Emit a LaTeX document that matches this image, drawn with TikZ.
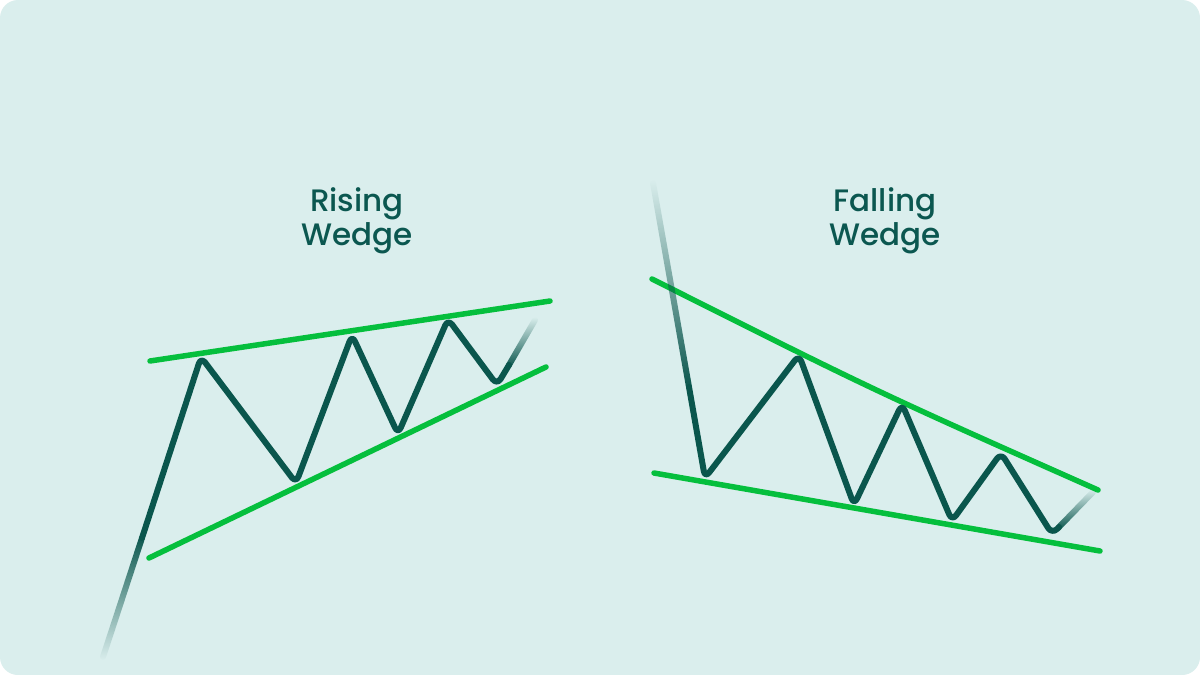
\documentclass[tikz,border=0pt]{standalone}
\usepackage{fontspec}
\setmainfont{Poppins Medium}
\usetikzlibrary{fadings}
\definecolor{bgc}{HTML}{DAEEED}
\definecolor{wgreen}{HTML}{05BF3D}
\definecolor{wdark}{HTML}{0A564D}
\definecolor{wtext}{HTML}{0B5750}
\tikzfading[name=fadetop, top color=transparent!100, bottom color=transparent!0]
\tikzfading[name=fadebottom, top color=transparent!0, bottom color=transparent!100]
\begin{document}
\begin{tikzpicture}[x=1pt,y=-1pt,
  trend/.style={wgreen, line width=5.5pt, line cap=round},
  price/.style={wdark, line width=6pt, line cap=round, line join=round, rounded corners=7pt},
  fadeend/.style={wdark, line width=6pt, line cap=round},
  title/.style={font=\fontsize{31}{34}\selectfont, text=wtext, align=center, inner sep=0pt, anchor=base}]
\useasboundingbox (0,0) rectangle (1200,675);
\fill[white] (0,0) rectangle (1200,675);
\fill[bgc, rounded corners=18pt] (0,0) rectangle (1200,675);

% ---------- Rising wedge ----------
\node[title] (rtitle) at (357,245) {Rising\\Wedge};
\coordinate (ru1) at (150,361);
\coordinate (ru2) at (550,301);
\coordinate (rl1) at (149,558);
\coordinate (rl2) at (546,367);
\coordinate (rs) at (103,657);
\coordinate (rf) at (142,538);
\coordinate (rp1) at (201,357);
\coordinate (rt1) at (296,483);
\coordinate (rp2) at (352,335);
\coordinate (rt2) at (398,434);
\coordinate (rp3) at (448,319);
\coordinate (rt3) at (497,385);
\coordinate (rg) at (509,365);
\coordinate (re) at (535,320);
\draw[trend] (ru1) -- (ru2);
\draw[trend] (rl1) -- (rl2);
\draw[price] (rf) -- (rp1) -- (rt1) -- (rp2) -- (rt2) -- (rp3) -- (rt3) -- (rg);
\draw[fadeend, path fading=fadebottom] (rs) -- (rf);
\draw[fadeend, path fading=fadetop] (rg) -- (re);

% ---------- Falling wedge ----------
\node[title] (ftitle) at (885,245) {Falling\\Wedge};
\coordinate (fu1) at (652,279);
\coordinate (fu2) at (1098,490);
\coordinate (fl1) at (654,473);
\coordinate (fl2) at (1100,551);
\coordinate (fs) at (653,183);
\coordinate (ff) at (689,387);
\coordinate (ft1) at (705,478);
\coordinate (fp1) at (799,355);
\coordinate (ft2) at (854,505);
\coordinate (fp2) at (902,404);
\coordinate (ft3) at (952,521);
\coordinate (fp3) at (1001,453);
\coordinate (ft4) at (1052,534);
\coordinate (fg) at (1059,527);
\coordinate (fe) at (1093,492);
\draw[trend] (fu1) .. controls (875,391) .. (fu2);
\draw[trend] (fl1) -- (fl2);
\draw[price] (ff) -- (ft1) -- (fp1) -- (ft2) -- (fp2) -- (ft3) -- (fp3) -- (ft4) -- (fg);
\draw[fadeend, path fading=fadetop] (fs) -- (ff);
\draw[fadeend, path fading=fadetop] (fg) -- (fe);
\end{tikzpicture}
\end{document}
